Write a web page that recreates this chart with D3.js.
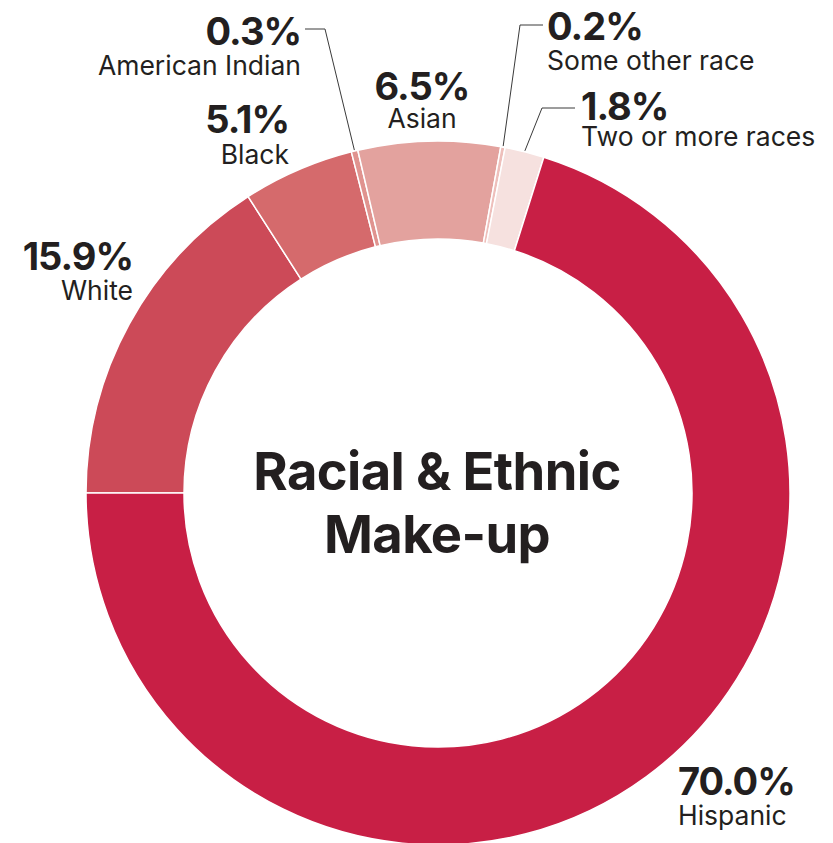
<!DOCTYPE html>
<html>
<head>
<meta charset="utf-8">
<script src="https://cdn.jsdelivr.net/npm/d3@7"></script>
<style>
  html, body { margin: 0; padding: 0; background: #ffffff; }
  svg { display: block; }
  text { fill: #231f20; font-family: Inter, Lato, sans-serif; }
  .pct { font-weight: 700; font-size: 38px; letter-spacing: -1px; }
  .cat { font-weight: 400; font-size: 26.5px; }
  .title { font-weight: 700; font-size: 52.5px; letter-spacing: -0.6px; }
</style>
</head>
<body>
<svg id="chart" width="833" height="843"></svg>
<script>
// Racial & ethnic make-up, clockwise from 9 o'clock
const categories = ["White", "Black", "American Indian", "Asian", "Some other race", "Two or more races", "Hispanic"];
const shares = [15.9, 5.1, 0.3, 6.5, 0.2, 1.8, 70.0];
const sliceColors = ["#cc4a58", "#d56a6c", "#e0938f", "#e3a29e", "#eebfbb", "#f6e1df", "#c81f45"];

// label placement: anchor x, baselines of value and name, text anchor, optional leader
const labelLayout = {
  "White":             { x: 133, y: 270, y2: 300, anchor: "end" },
  "Black":             { x: 289, y: 133, y2: 164, anchor: "end" },
  "American Indian":   { x: 301, y: 45,  y2: 75,  anchor: "end",    leader: { y: 29, from: 305, elbow: 325 } },
  "Asian":             { x: 422, y: 100, y2: 128, anchor: "middle" },
  "Some other race":   { x: 547, y: 40,  y2: 70,  anchor: "start",  leader: { y: 25, from: 543, elbow: 520 } },
  "Two or more races": { x: 581, y: 120, y2: 146, anchor: "start",  leader: { y: 108, from: 575, elbow: 542 } },
  "Hispanic":          { x: 678, y: 795, y2: 825, anchor: "start" }
};

const data = categories.map((c, i) => ({ category: c, share: shares[i], color: sliceColors[i] }));

const cx = 438, cy = 493, outerR = 352, innerR = 254;
const svg = d3.select("#chart");
const g = svg.append("g").attr("transform", `translate(${cx},${cy})`);

const pie = d3.pie()
  .sort(null)
  .value(d => d.share)
  .startAngle(-Math.PI / 2)
  .endAngle(3 * Math.PI / 2);

const arc = d3.arc().innerRadius(innerR).outerRadius(outerR);
const edgeArc = d3.arc().innerRadius(outerR + 1).outerRadius(outerR + 1);

const arcs = pie(data);

g.selectAll("path.slice")
  .data(arcs)
  .join("path")
  .attr("class", "slice")
  .attr("d", arc)
  .attr("fill", d => d.data.color)
  .attr("stroke", "#ffffff")
  .attr("stroke-width", 1.5)
  .attr("stroke-linejoin", "miter");

// leader lines for the thin slices
arcs.forEach(a => {
  const L = labelLayout[a.data.category];
  if (!L.leader) return;
  const [ex, ey] = edgeArc.centroid(a);
  const pts = [
    [L.leader.from, L.leader.y],
    [L.leader.elbow, L.leader.y],
    [ex + cx, ey + cy]
  ];
  svg.append("path")
    .attr("d", d3.line()(pts))
    .attr("fill", "none")
    .attr("stroke", "#3a3a3a")
    .attr("stroke-width", 1);
});

const fmt = d3.format(".1f");
const labels = svg.selectAll("g.label")
  .data(arcs)
  .join("g")
  .attr("class", "label");

labels.append("text")
  .attr("class", "pct")
  .attr("x", d => labelLayout[d.data.category].x)
  .attr("y", d => labelLayout[d.data.category].y)
  .attr("text-anchor", d => labelLayout[d.data.category].anchor)
  .text(d => fmt(d.data.share) + "%");

labels.append("text")
  .attr("class", "cat")
  .attr("x", d => labelLayout[d.data.category].x)
  .attr("y", d => labelLayout[d.data.category].y2)
  .attr("text-anchor", d => labelLayout[d.data.category].anchor)
  .text(d => d.data.category);

// centre title
const title = ["Racial & Ethnic", "Make-up"];
svg.selectAll("text.title")
  .data(title)
  .join("text")
  .attr("class", "title")
  .attr("x", 437)
  .attr("y", (d, i) => 490 + i * 63)
  .attr("text-anchor", "middle")
  .text(d => d);
</script>
</body>
</html>
